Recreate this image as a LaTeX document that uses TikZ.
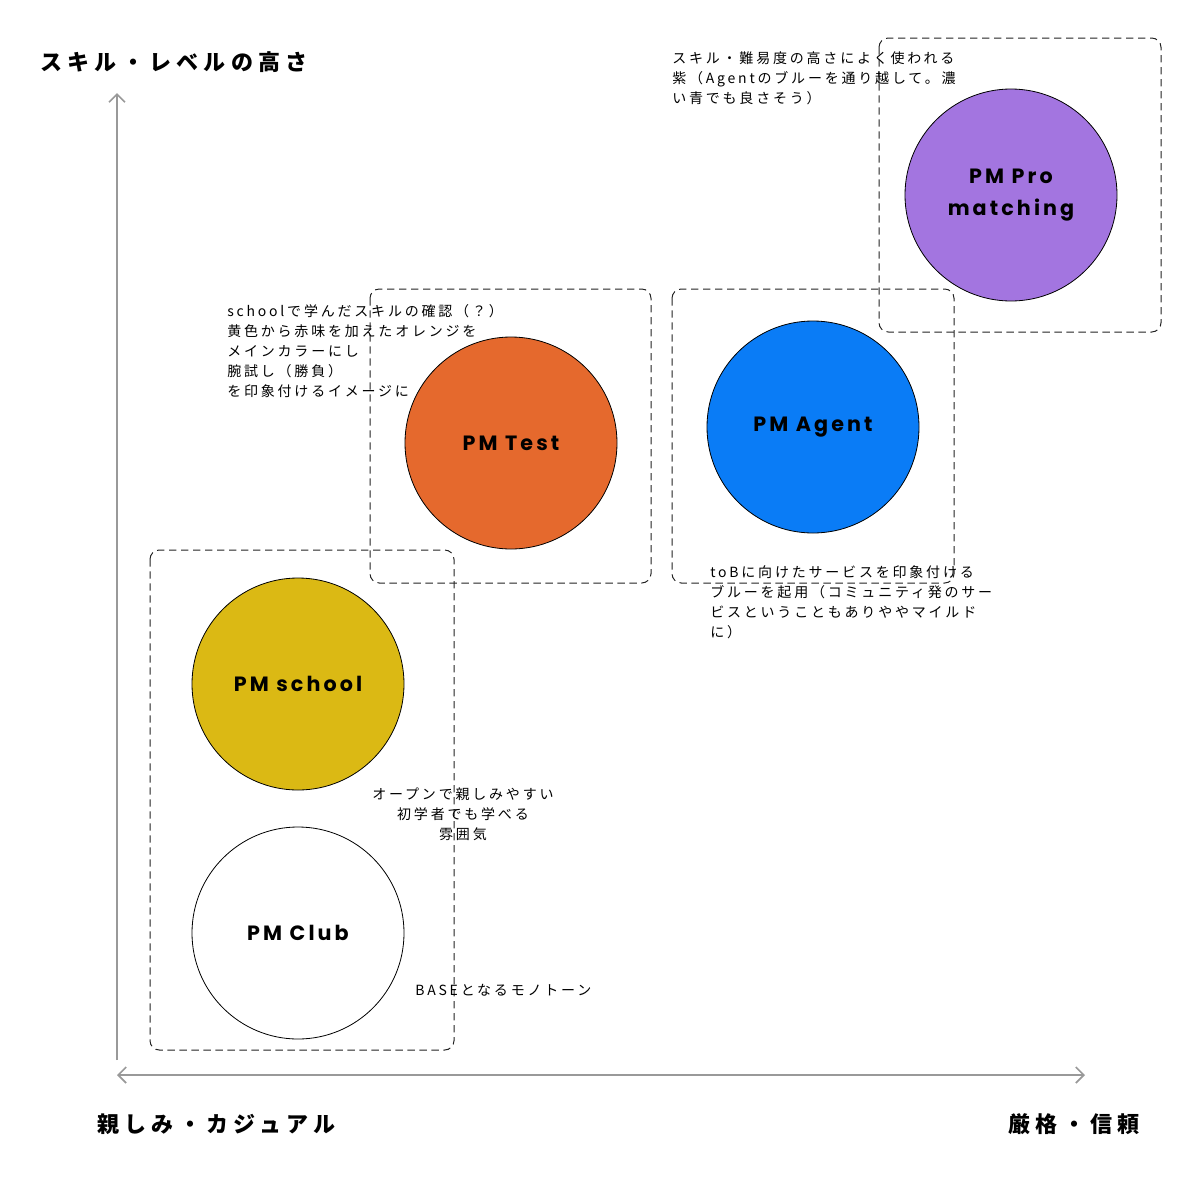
\documentclass[tikz,border=0pt]{standalone}
\usepackage{fontspec}
\setmainfont{Noto Sans CJK JP}[LetterSpace=20]
\newfontfamily\titlefont{Noto Sans CJK JP}[LetterSpace=24]
\newfontfamily\labelfont{Poppins}[LetterSpace=15]
\usetikzlibrary{arrows.meta}
\definecolor{axisgray}{HTML}{999999}
\definecolor{cpurple}{HTML}{A375E0}
\definecolor{cblue}{HTML}{0A7CF6}
\definecolor{corange}{HTML}{E5692D}
\definecolor{cyellow}{HTML}{DBB914}
\definecolor{dashgray}{HTML}{222222}
\begin{document}
\begin{tikzpicture}[x=0.75pt,y=-0.75pt,
  axis/.style={draw=axisgray,line width=1.5pt},
  tipbarb/.style={-{Straight Barb[length=6pt,width=12pt,line width=1.3pt]}},
  group/.style={draw=dashgray,line width=0.75pt,dash pattern=on 5.5pt off 3.5pt,rounded corners=7pt},
  brand/.style={circle,draw=black,line width=0.6pt,minimum size=159pt,inner sep=0pt,
    font=\labelfont\bfseries\fontsize{15.5}{24}\selectfont,align=center},
  note/.style={inner sep=0pt,font=\fontsize{10.5}{15}\selectfont},
  axistitle/.style={inner sep=0pt,font=\titlefont\bfseries\fontsize{16.5}{20}\selectfont}]
\useasboundingbox (0,0) rectangle (1200,1189);
% axes
\coordinate (ytop) at (117,93);
\coordinate (ybot) at (117,1060);
\coordinate (xleft) at (117,1075);
\coordinate (xright) at (1085,1075);
\draw[axis,tipbarb] (ybot) -- (ytop);
\draw[axis,{Straight Barb[length=6pt,width=12pt,line width=1.3pt]}-{Straight Barb[length=6pt,width=12pt,line width=1.3pt]}] (xleft) -- (xright);
% dashed groups
\draw[group] (879,38) rectangle (1161,332);
\draw[group] (672,289) rectangle (954,583);
\draw[group] (370,289) rectangle (651,583);
\draw[group] (150,550) rectangle (454,1050);
% circles
\node[brand,fill=cpurple] (pro) at (1011,195) {PM Pro\\matching};
\node[brand,fill=cblue] (agent) at (813,427) {PM Agent};
\node[brand,fill=corange] (test) at (511,443) {PM Test};
\node[brand,fill=cyellow] (school) at (298,684) {PM school};
\node[brand,fill=white] (club) at (298,933) {PM Club};
% notes
\node[note,anchor=north west,align=left] (n1) at (672,51) {スキル・難易度の高さによく使われる\\紫（Agentのブルーを通り越して。濃\\い青でも良さそう）};
\node[note,anchor=north west,align=left] (n2) at (227,304) {schoolで学んだスキルの確認（？）\\黄色から赤味を加えたオレンジを\\メインカラーにし\\腕試し（勝負）\\を印象付けるイメージに};
\node[note,anchor=north west,align=left] (n3) at (710,565) {toBに向けたサービスを印象付ける\\ブルーを起用（コミュニティ発のサー\\ビスということもありややマイルド\\に）};
\node[note,anchor=north,align=center] (n4) at (463,788) {オープンで親しみやすい\\初学者でも学べる\\雰囲気};
\node[note,anchor=west] (n5) at (415,990) {BASEとなるモノトーン};
% axis titles
\node[axistitle,anchor=west] (ty) at (40,62) {スキル・レベルの高さ};
\node[axistitle,anchor=west] (tx1) at (97,1124) {親しみ・カジュアル};
\node[axistitle,anchor=east] (tx2) at (1140,1124) {厳格・信頼};
\end{tikzpicture}
\end{document}
